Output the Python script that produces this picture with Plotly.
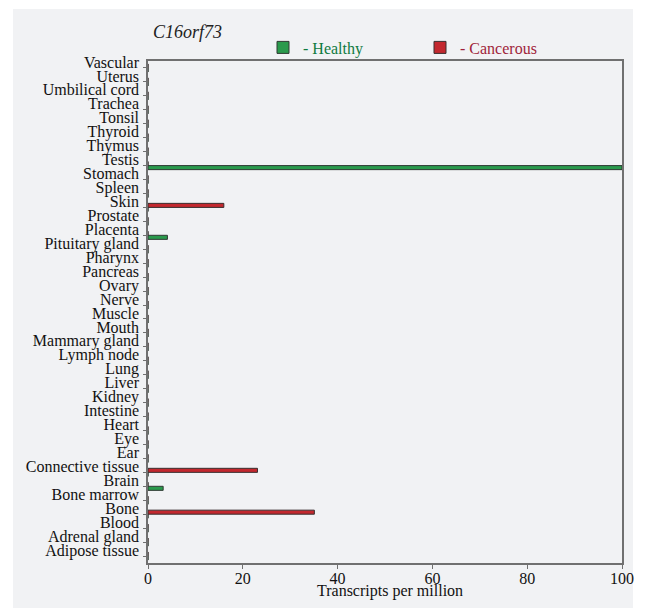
import plotly.graph_objects as go

# categories listed top-to-bottom as in the chart
tissues_top_down = [
    "Vascular", "Uterus", "Umbilical cord", "Trachea", "Tonsil", "Thyroid",
    "Thymus", "Testis", "Stomach", "Spleen", "Skin", "Prostate", "Placenta",
    "Pituitary gland", "Pharynx", "Pancreas", "Ovary", "Nerve", "Muscle",
    "Mouth", "Mammary gland", "Lymph node", "Lung", "Liver", "Kidney",
    "Intestine", "Heart", "Eye", "Ear", "Connective tissue", "Brain",
    "Bone marrow", "Bone", "Blood", "Adrenal gland", "Adipose tissue",
]
healthy_values = {"Testis": 100, "Placenta": 4.1, "Brain": 3.2}
cancerous_values = {"Skin": 16, "Connective tissue": 23.1, "Bone": 35.1}
x_ticks = [0, 20, 40, 60, 80, 100]
gene_name = "C16orf73"
x_title = "Transcripts per million"

tissues = list(reversed(tissues_top_down))  # bottom-to-top for the y axis
healthy = [healthy_values.get(t, 0) for t in tissues]
cancerous = [cancerous_values.get(t, 0) for t in tissues]

GREEN = "#2a9a4c"
RED = "#c3282e"
GREEN_TXT = "#0f7a3f"
RED_TXT = "#a01f3a"
FONT = "Liberation Serif, Times New Roman, serif"

fig = go.Figure()
fig.add_trace(go.Bar(
    y=tissues, x=healthy, orientation="h",
    name=f"<span style='color:{GREEN_TXT}'>- Healthy</span>",
    marker=dict(color=GREEN, line=dict(color="#2f3a33", width=1)),
))
fig.add_trace(go.Bar(
    y=tissues, x=cancerous, orientation="h",
    name=f"<span style='color:{RED_TXT}'>- Cancerous</span>",
    marker=dict(color=RED, line=dict(color="#3a2f2f", width=1)),
))

fig.update_layout(
    width=646, height=612,
    margin=dict(l=148, r=24, t=61, b=49, autoexpand=False),
    paper_bgcolor="white",
    plot_bgcolor="#d8d8da",
    barmode="group",
    bargap=0.42,
    bargroupgap=0,
    font=dict(family=FONT, size=16, color="#111111"),
    title=dict(
        text=f"<i>{gene_name}</i>",
        x=153 / 646, xanchor="left", xref="container",
        y=1 - 32 / 612, yanchor="middle", yref="container",
        font=dict(family=FONT, size=18, color="#222222"),
    ),
    legend=dict(
        orientation="h",
        x=(263 - 148) / 474, xanchor="left", xref="paper",
        y=1 - 47.5 / 612, yanchor="middle", yref="container",
        bgcolor="rgba(0,0,0,0)",
        font=dict(family=FONT, size=16),
        entrywidth=112, entrywidthmode="pixels",
        traceorder="normal",
    ),
    showlegend=True,
    shapes=[dict(
        type="rect", xref="paper", yref="paper",
        x0=(13 - 148) / 474, x1=(633 - 148) / 474,
        y0=(563 - 608) / 502, y1=(563 - 9) / 502,
        fillcolor="#f1f2f4", line=dict(width=0), layer="below",
    )],
    annotations=[dict(
        text=x_title, showarrow=False,
        xref="paper", x=(390 - 148) / 474, xanchor="center",
        yref="paper", y=(563 - 591) / 502, yanchor="middle",
        font=dict(family=FONT, size=16, color="#111111"),
    )],
)

fig.update_xaxes(
    range=[0, 100], tickvals=x_ticks, ticktext=[str(v) for v in x_ticks],
    showgrid=False, zeroline=False,
    showline=True, linecolor="#707070", linewidth=1.5, mirror=True,
    ticks="outside", ticklen=4, tickcolor="#707070",
    tickfont=dict(family=FONT, size=16),
    ticklabelstandoff=-4,
)
fig.update_yaxes(
    type="category", categoryorder="array", categoryarray=tissues,
    range=[-0.5, len(tissues) - 0.5],
    tickmode="array", tickvals=tissues, ticktext=tissues,
    showgrid=False, zeroline=False,
    showline=True, linecolor="#707070", linewidth=1.5, mirror=True,
    ticks="outside", ticklen=3, tickcolor="#707070",
    tickfont=dict(family=FONT, size=16),
    ticklabelshift=-6, ticklabelstandoff=1,
)

fig.write_html("out.html")
